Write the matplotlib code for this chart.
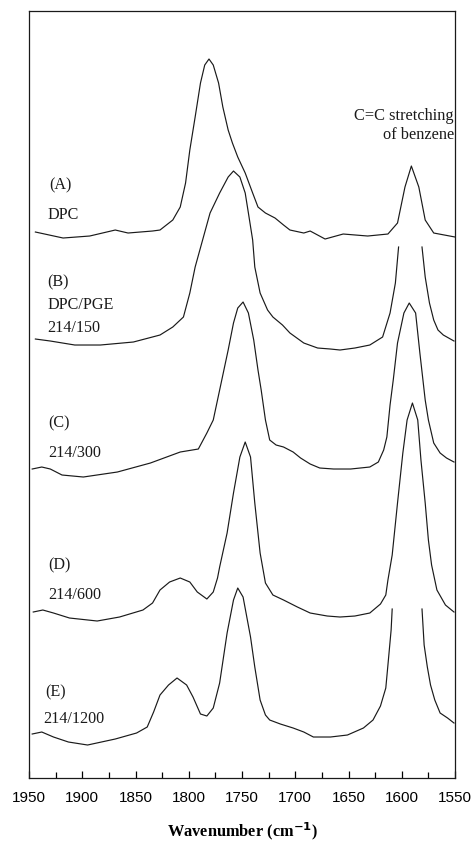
import numpy as np
import matplotlib
matplotlib.use("Agg")
import matplotlib.pyplot as plt

# Spectres IR empilés (absorbance décalée, unités arbitraires)
# nan = tracé interrompu au-dessus du spectre précédent

wn_a = [1944, 1918, 1893, 1869, 1857, 1834, 1827, 1815, 1808, 1803, 1799, 1794,
        1789, 1785, 1781, 1777, 1772, 1768, 1763, 1759, 1754, 1747, 1740, 1735,
        1728, 1719, 1711, 1705, 1692, 1686, 1672, 1655, 1632, 1613, 1604, 1597,
        1591, 1584, 1578, 1570, 1550]
ab_a = [546, 540, 542, 548, 545, 547, 548, 558, 571, 595, 628, 661,
        695, 713, 719, 713, 695, 671, 648, 635, 621, 605, 585, 571,
        565, 560, 553, 548, 545, 547, 539, 544, 542, 544, 555, 591,
        612, 591, 558, 545, 541]

wn_b = [1944, 1930, 1907, 1883, 1852, 1827, 1815, 1805, 1799, 1794, 1787, 1780,
        1771, 1763, 1758, 1752, 1747, 1744, 1740, 1738, 1733, 1726, 1721, 1712,
        1705, 1692, 1679, 1667, 1658, 1644, 1630, 1618, 1611, 1606, 1603, 1592,
        1581, 1578, 1574, 1570, 1566, 1561, 1551]
ab_b = [439, 437, 433, 433, 436, 443, 451, 461, 485, 511, 538, 565,
        585, 601, 607, 601, 585, 565, 538, 511, 485, 468, 461, 453,
        445, 435, 430, 429, 428, 430, 433, 441, 465, 495, 531, np.nan,
        531, 501, 475, 458, 448, 443, 437]

wn_c = [1947, 1938, 1930, 1919, 1899, 1867, 1836, 1808, 1791, 1783, 1777, 1773,
        1769, 1763, 1758, 1754, 1749, 1744, 1739, 1735, 1732, 1728, 1724, 1718,
        1711, 1702, 1695, 1686, 1677, 1664, 1648, 1630, 1622, 1617, 1614, 1611,
        1608, 1604, 1598, 1593, 1587, 1583, 1578, 1575, 1570, 1564, 1558, 1551]
ab_c = [309, 311, 309, 303, 301, 306, 315, 326, 329, 345, 358, 378,
        398, 428, 455, 470, 476, 465, 438, 408, 388, 358, 338, 333,
        331, 326, 320, 314, 310, 309, 309, 311, 316, 328, 341, 373,
        398, 435, 465, 475, 465, 425, 378, 358, 335, 325, 320, 316]

wn_d = [1946, 1937, 1927, 1912, 1886, 1865, 1843, 1834, 1827, 1818, 1808, 1799,
        1792, 1783, 1777, 1773, 1771, 1764, 1758, 1752, 1747, 1742, 1738, 1733,
        1728, 1721, 1711, 1698, 1686, 1670, 1658, 1644, 1630, 1620, 1615, 1613,
        1609, 1604, 1599, 1595, 1590, 1585, 1582, 1578, 1575, 1572, 1567, 1559, 1551]
ab_d = [166, 168, 165, 160, 157, 161, 168, 175, 188, 196, 200, 196,
        186, 179, 186, 200, 211, 245, 285, 321, 336, 321, 275, 225,
        195, 183, 178, 171, 165, 162, 161, 162, 165, 174, 183, 198,
        223, 275, 325, 358, 375, 358, 318, 275, 238, 213, 188, 173, 166]

wn_e = [1947, 1938, 1927, 1913, 1895, 1869, 1849, 1839, 1833, 1827, 1819, 1811,
        1802, 1796, 1789, 1783, 1777, 1771, 1764, 1758, 1754, 1749, 1742, 1738,
        1733, 1728, 1724, 1714, 1702, 1692, 1683, 1667, 1651, 1636, 1627, 1620,
        1615, 1613, 1610, 1609, 1595, 1581, 1579, 1576, 1573, 1569, 1564, 1557, 1551]
ab_e = [44, 46, 41, 36, 33, 39, 45, 51, 66, 83, 93, 100,
        93, 81, 64, 62, 70, 95, 145, 178, 190, 181, 141, 111,
        78, 63, 58, 54, 50, 46, 41, 41, 43, 50, 58, 72,
        90, 113, 148, 169, np.nan, 169, 133, 111, 93, 78, 65, 60, 55]

spectres = [(wn_a, ab_a), (wn_b, ab_b), (wn_c, ab_c), (wn_d, ab_d), (wn_e, ab_e)]

# Étiquettes des échantillons : (texte, nombre d'onde, ordonnée)
etiquettes = [
    ("(A)", 1931, 593), ("DPC", 1933, 563),
    ("(B)", 1933, 496), ("DPC/PGE", 1933, 473), ("214/150", 1933, 450),
    ("(C)", 1932, 355), ("214/300", 1932, 325),
    ("(D)", 1932, 213), ("214/600", 1932, 183),
    ("(E)", 1935, 86), ("214/1200", 1937, 59),
]

SERIF = ["Liberation Serif", "DejaVu Serif"]

fig = plt.figure(figsize=(4.73, 8.41), dpi=100)
ax = fig.add_axes([0.0613, 0.0749, 0.9007, 0.912])

for wn, ab in spectres:
    ax.plot(wn, ab, color="#1a1a1a", linewidth=0.85)

for texte, x, y in etiquettes:
    ax.text(x, y, texte, fontsize=11.6, family=SERIF, ha="left", va="center",
            color="#1a1a1a")

ax.text(1551, 662, "C=C stretching", fontsize=11.8, family=SERIF,
        ha="right", va="center", color="#1a1a1a")
ax.text(1551, 643, "of benzene", fontsize=11.8, family=SERIF,
        ha="right", va="center", color="#1a1a1a")

ax.set_xlim(1950, 1550)
ax.set_ylim(0, 767)
ax.set_xticks(np.arange(1950, 1549, -50))
ax.set_xticks(np.arange(1925, 1549, -50), minor=True)
ax.set_yticks([])
ax.tick_params(axis="x", which="major", direction="in", length=5, width=0.9,
               pad=9, labelsize=11)
ax.tick_params(axis="x", which="minor", direction="in", length=4, width=0.9)
for lab in ax.get_xticklabels():
    lab.set_family(["Liberation Sans", "DejaVu Sans"])

for sp in ax.spines.values():
    sp.set_linewidth(0.9)
    sp.set_color("#1a1a1a")

ax.set_xlabel(r"Wavenumber (cm$^{\mathbf{-1}}$)", fontsize=11.8,
              family=SERIF, fontweight="bold", labelpad=11.5)

fig.savefig("out.png", dpi=100)
